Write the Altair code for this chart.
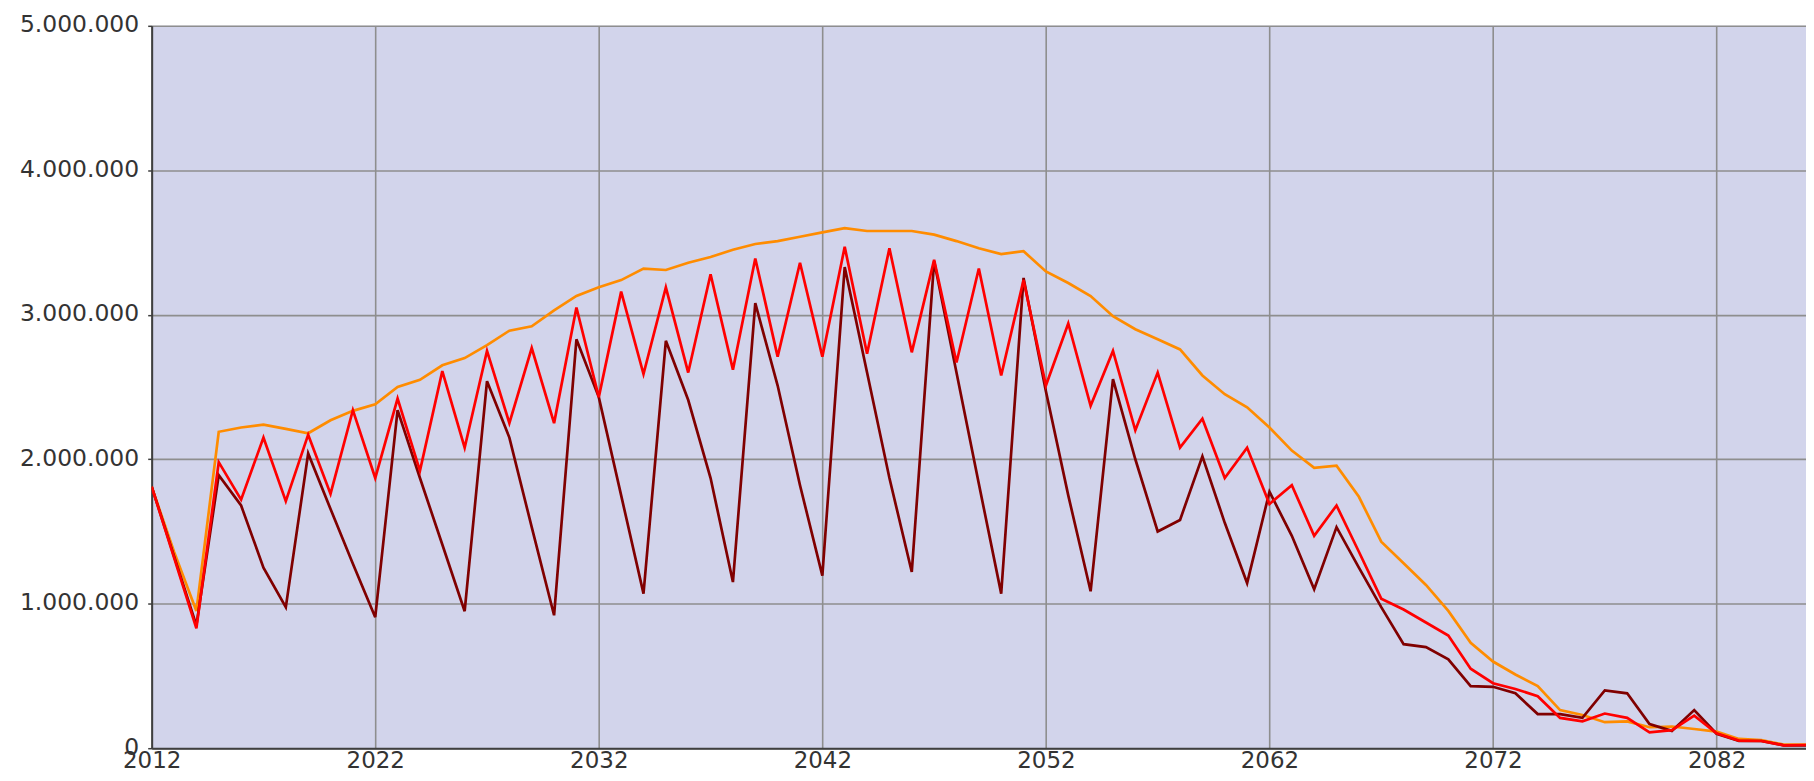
import altair as alt
import pandas as pd

# Years (x categories)
years = list(range(2012, 2087))

# Series values in millions
orange_vals = [
    1.81, 1.36, 0.95, 2.19, 2.22, 2.24, 2.21, 2.18, 2.27, 2.335,
    2.38, 2.50, 2.55, 2.65, 2.70, 2.79, 2.89, 2.92, 3.03, 3.13,
    3.19, 3.24, 3.32, 3.31, 3.36, 3.40, 3.45, 3.49, 3.51, 3.54,
    3.57, 3.60, 3.58, 3.58, 3.58, 3.555, 3.51, 3.46, 3.42, 3.44,
    3.30, 3.22, 3.13, 2.99, 2.90, 2.83, 2.76, 2.58, 2.45, 2.36,
    2.22, 2.06, 1.94, 1.955, 1.74, 1.43, 1.28, 1.13, 0.95, 0.73,
    0.60, 0.51, 0.43, 0.264, 0.23, 0.18, 0.186, 0.145, 0.15, 0.133,
    0.115, 0.064, 0.057, 0.025, 0.025,
]
red_vals = [
    1.81, 1.32, 0.83, 1.98, 1.72, 2.15, 1.71, 2.17, 1.76, 2.34,
    1.87, 2.42, 1.92, 2.61, 2.08, 2.75, 2.25, 2.77, 2.25, 3.05,
    2.43, 3.16, 2.59, 3.19, 2.60, 3.28, 2.62, 3.39, 2.71, 3.36,
    2.71, 3.47, 2.73, 3.46, 2.74, 3.38, 2.67, 3.32, 2.58, 3.24,
    2.51, 2.94, 2.37, 2.75, 2.20, 2.60, 2.08, 2.28, 1.87, 2.08,
    1.69, 1.82, 1.47, 1.68, 1.36, 1.035, 0.96, 0.87, 0.78, 0.55,
    0.45, 0.41, 0.36, 0.21, 0.186, 0.24, 0.21, 0.11, 0.125, 0.225,
    0.103, 0.053, 0.05, 0.02, 0.022,
]
darkred_vals = [
    1.81, 1.33, 0.85, 1.89, 1.68, 1.25, 0.976, 2.04, 1.655, 1.276,
    0.907, 2.34, 1.87, 1.41, 0.948, 2.54, 2.15, 1.53, 0.92, 2.83,
    2.43, 1.75, 1.07, 2.82, 2.41, 1.87, 1.15, 3.08, 2.51, 1.82,
    1.195, 3.33, 2.60, 1.87, 1.22, 3.37, 2.60, 1.83, 1.07, 3.255,
    2.47, 1.75, 1.086, 2.555, 2.00, 1.50, 1.58, 2.02, 1.56, 1.143,
    1.775, 1.47, 1.10, 1.53, 1.25, 0.976, 0.72, 0.70, 0.615, 0.43,
    0.425, 0.38, 0.236, 0.236, 0.21, 0.40, 0.38, 0.167, 0.12, 0.264,
    0.10, 0.05, 0.05, 0.02, 0.02,
]

x_ticks = [2012, 2022, 2032, 2042, 2052, 2062, 2072, 2082]
y_ticks = [0, 1000000, 2000000, 3000000, 4000000, 5000000]

FONT = "DejaVu Sans"


def frame(vals):
    return pd.DataFrame({"year": years, "value": [v * 1_000_000 for v in vals]})


x_enc = alt.X(
    "year:Q",
    scale=alt.Scale(domain=[2012, 2086], nice=False, zero=False),
    axis=alt.Axis(
        values=x_ticks, format="d", title=None, tickSize=0, labelPadding=1,
        labelFlush=False, labelOverlap=False, grid=True,
        gridColor="#8e8e8e", gridWidth=1.6,
        domainColor="#3f3f3f", domainWidth=2,
        labelFont=FONT, labelFontSize=23, labelColor="#333333",
    ),
)
y_enc = alt.Y(
    "value:Q",
    scale=alt.Scale(domain=[0, 5000000], nice=False),
    axis=alt.Axis(
        values=y_ticks, title=None, tickSize=4, tickColor="#3f3f3f", tickWidth=1.5,
        labelPadding=9, labelOffset=-1,
        labelExpr="datum.value == 0 ? '0' : format(datum.value / 1000000, 'd') + '.000.000'",
        grid=True, gridColor="#8e8e8e", gridWidth=1.6,
        domainColor="#3f3f3f", domainWidth=2,
        labelFont=FONT, labelFontSize=23.5, labelColor="#333333",
    ),
)


def line(vals, color):
    return alt.Chart(frame(vals)).mark_line(
        color=color, strokeWidth=2.7, clip=True
    ).encode(x=x_enc, y=y_enc)


chart = alt.layer(
    line(orange_vals, "#ff8c00"),
    line(darkred_vals, "#800000"),
    line(red_vals, "#ff0000"),
).properties(
    width=1658,
    height=724,
    autosize=alt.AutoSizeParams(type="none"),
    padding={"left": 144, "top": 17, "right": 0, "bottom": 26},
).configure_view(
    fill="#d2d4eb", strokeWidth=0
)

chart.save("out.html", embed_options={"renderer": "svg", "actions": False})
